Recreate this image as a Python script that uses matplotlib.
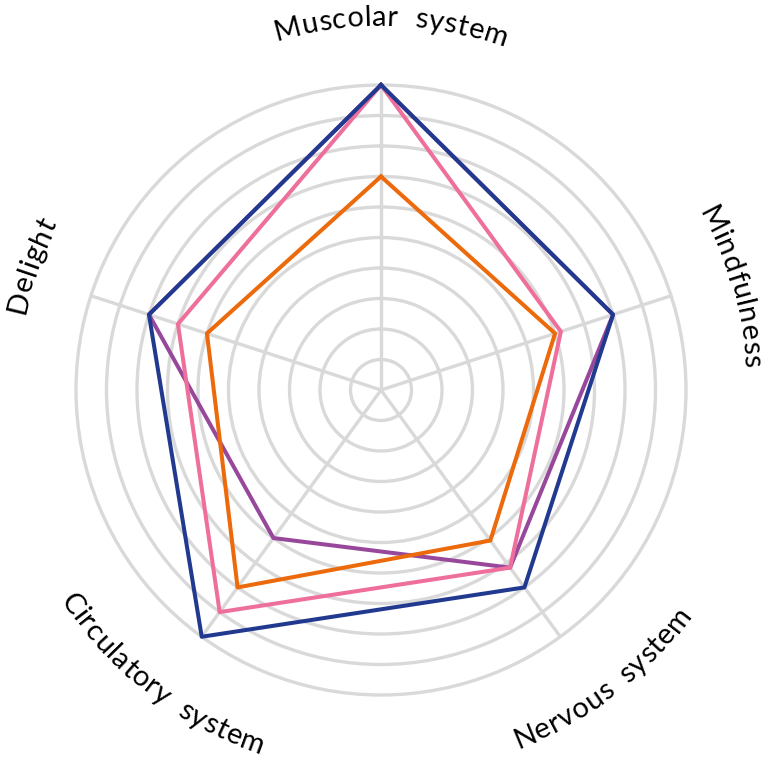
import numpy as np
import matplotlib
matplotlib.use("Agg")
import matplotlib.pyplot as plt
from matplotlib.font_manager import FontProperties

# Data (scale 0-10)
categories = ['Muscolar system', 'Mindfulness', 'Nervous system', 'Circulatory system', 'Delight']
blue_vals = [10, 8, 8, 10, 8]
pink_vals = [10, 6.2, 7.2, 9, 7]
orange_vals = [7, 6, 6.1, 8, 6]
purple_vals = [10, 8, 7.2, 6, 8]

GRID = '#d9d9d9'
W, H, DPI = 7.68, 7.61, 100

fig = plt.figure(figsize=(W, H), dpi=DPI)
rect = [76 / 768, (761 - 390 - 305) / 761, 610 / 768, 610 / 761]
ax = fig.add_axes(rect, projection='polar')
ax.set_theta_zero_location('N')
ax.set_theta_direction(-1)

theta = np.linspace(0, 2 * np.pi, len(categories), endpoint=False)

ax.set_ylim(0, 10)
ax.set_rgrids(range(1, 10), labels=[''] * 9)
ax.set_thetagrids(np.degrees(theta), labels=[''] * len(theta))
ax.grid(color=GRID, lw=2.4)
ax.spines['polar'].set_color(GRID)
ax.spines['polar'].set_linewidth(2.4)
ax.tick_params(length=0)


def closed(vals):
    return np.append(theta, theta[0]), np.append(vals, vals[0])


# purple below, blue on top
series = [
    (purple_vals, '#98489b'),
    (pink_vals, '#ee6f9c'),
    (orange_vals, '#ec6a0b'),
    (blue_vals, '#213a90'),
]
for vals, col in series:
    t, v = closed(vals)
    ax.plot(t, v, color=col, lw=2.9, solid_joinstyle='round', clip_on=False, zorder=3)

# curved category labels
renderer = fig.canvas.get_renderer()
prop = FontProperties(family='Lato', size=21)
px_per_unit = 305 / 10.0
bar_w = renderer.get_text_width_height_descent('|', prop, ismath=False)[0]
tracking = 0.7    # px between letters
word_gap = 7      # extra px for spaces
shifts = [10, 10, 10, -10, 10]  # px along reading direction


def adv(s):
    w = renderer.get_text_width_height_descent(s + '|', prop, ismath=False)[0] - bar_w
    return w + tracking * len(s) + word_gap * s.count(' ')


def curved_label(text, th, upper, shift):
    total = adv(text) - tracking
    r_px = 364 if upper else 384
    r_data = r_px / px_per_unit
    for i, ch in enumerate(text):
        if ch == ' ':
            continue
        left = adv(text[:i])
        right = adv(text[:i + 1]) - tracking
        mid = (left + right) / 2 - total / 2 + shift
        dth = mid / r_px
        t = th + dth if upper else th - dth
        deg = np.degrees(t)
        rot = -deg if upper else 180 - deg
        ax.text(t, r_data, ch, rotation=rot, rotation_mode='anchor',
                ha='center', va='baseline', fontproperties=prop, clip_on=False)


for name, th, sh in zip(categories, theta, shifts):
    upper = np.cos(th) > -0.5
    curved_label(name, th, upper, sh)

fig.savefig('out.png', dpi=DPI, facecolor='white')
